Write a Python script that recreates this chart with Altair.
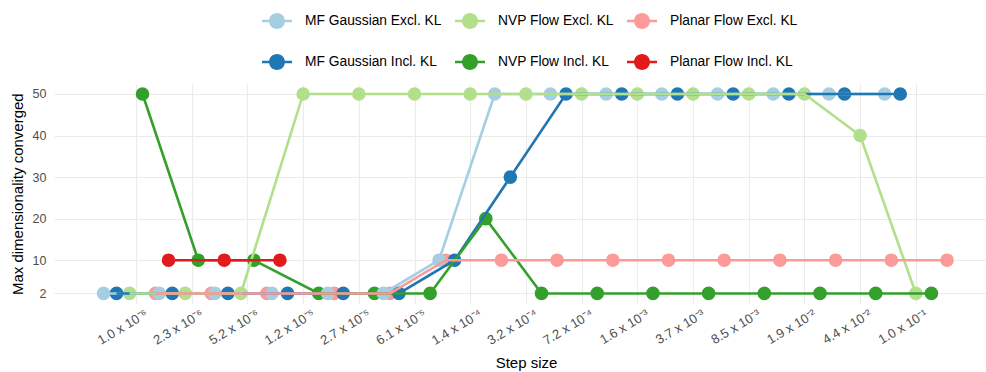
import json
import math

import altair as alt
import pandas as pd

# Step sizes on the log grid and the tick labels printed under them
step_sizes = [1.000e-6, 2.276e-6, 5.179e-6, 1.179e-5, 2.683e-5, 6.105e-5, 1.389e-4,
              3.162e-4, 7.197e-4, 1.638e-3, 3.728e-3, 8.483e-3, 1.931e-2, 4.394e-2, 1.000e-1]
step_labels = ["1.0 x 10⁻⁶", "2.3 x 10⁻⁶", "5.2 x 10⁻⁶", "1.2 x 10⁻⁵", "2.7 x 10⁻⁵",
               "6.1 x 10⁻⁵", "1.4 x 10⁻⁴", "3.2 x 10⁻⁴", "7.2 x 10⁻⁴", "1.6 x 10⁻³",
               "3.7 x 10⁻³", "8.5 x 10⁻³", "1.9 x 10⁻²", "4.4 x 10⁻²", "1.0 x 10⁻¹"]

# Max dimensionality converged per method, one value per step size
mf_excl = [2, 2, 2, 2, 2, 2, 10, 50, 50, 50, 50, 50, 50, 50, 50]
mf_incl = [2, 2, 2, 2, 2, 2, 10, 30, 50, 50, 50, 50, 50, 50, 50]
nvp_excl = [2, 2, 2, 50, 50, 50, 50, 50, 50, 50, 50, 50, 50, 40, 2]
nvp_incl = [50, 10, 10, 2, 2, 2, 20, 2, 2, 2, 2, 2, 2, 2, 2]
planar_excl = [2, 2, 2, 2, 2, 10, 10, 10, 10, 10, 10, 10, 10, 10, 10]
planar_incl = [10, 10, 10]

series_names = ["MF Gaussian Excl. KL", "MF Gaussian Incl. KL", "NVP Flow Excl. KL",
                "NVP Flow Incl. KL", "Planar Flow Excl. KL", "Planar Flow Incl. KL"]
series_values = [mf_excl, mf_incl, nvp_excl, nvp_incl, planar_excl, planar_incl]
series_colors = ["#A6CEE3", "#1F78B4", "#B2DF8A", "#33A02C", "#FB9A99", "#E31A1C"]

y_breaks = [2, 10, 20, 30, 40, 50]

rows = []
for i, step in enumerate(step_sizes):
    for k, (name, vals) in enumerate(zip(series_names, series_values)):
        if i < len(vals):
            rows.append({"series": name, "order": k, "step": step, "value": vals[i]})
df = pd.DataFrame(rows)

# Legend is laid out row-wise: the three "Excl." entries on top, "Incl." below
legend_order = [series_names[j] for j in (0, 2, 4, 1, 3, 5)]
legend_colors = [series_colors[j] for j in (0, 2, 4, 1, 3, 5)]

DODGE = 0.5  # total dodge width, in decades of step size
FONT = "Liberation Sans"

tick_values = [math.log10(s) for s in step_sizes]
label_expr = (f"{json.dumps(step_labels, ensure_ascii=False)}"
              f"[indexof({json.dumps(tick_values)}, datum.value)]")

# line through a filled dot, used as the legend key
KEY_PATH = ("M-1,-0.087H1V0.087H-1Z "
            "M-0.533,0A0.533,0.533 0 1,1 0.533,0A0.533,0.533 0 1,1 -0.533,0Z")

base = alt.Chart(df).transform_joinaggregate(
    n_groups="count()", groupby=["step"]
).transform_window(
    slot="row_number()", groupby=["step"], sort=[alt.SortField("order")]
).transform_calculate(
    xpos=f"log(datum.step) / LN10 + (datum.slot - (datum.n_groups + 1) / 2) * {DODGE} / datum.n_groups"
)

x_enc = alt.X(
    "xpos:Q",
    title="Step size",
    scale=alt.Scale(domain=[-6.526, -0.55], nice=False, zero=False),
    axis=alt.Axis(values=tick_values, labelExpr=label_expr, labelAngle=-31,
                  labelAlign="right", labelBaseline="top", labelPadding=4,
                  labelOffset=7, labelFontSize=13,
                  titleBaseline="alphabetic", titleY=64, titleX=472),
)
y_enc = alt.Y(
    "value:Q",
    title="Max dimensionality converged",
    scale=alt.Scale(domain=[-0.4, 52.4], nice=False, zero=False),
    axis=alt.Axis(values=y_breaks, labelPadding=8, titleX=-37, titleBaseline="middle"),
)
color_scale = alt.Scale(domain=legend_order, range=legend_colors)

points = base.mark_circle(size=185, opacity=1).encode(
    x=x_enc,
    y=y_enc,
    color=alt.Color(
        "series:N", scale=color_scale,
        legend=alt.Legend(
            orient="none", legendX=208, legendY=-78, direction="horizontal",
            columns=3, title=None, symbolType=KEY_PATH, symbolSize=900,
            symbolStrokeWidth=0, symbolOpacity=1, labelFont=FONT, labelFontSize=13.8,
            labelColor="#000000", labelOffset=13, columnPadding=13, rowPadding=18,
            padding=0,
        ),
    ),
)

lines = base.mark_line(strokeWidth=2.6).encode(
    x=x_enc,
    y=y_enc,
    color=alt.Color("series:N", scale=color_scale, legend=None),
    detail="series:N",
)

chart = alt.layer(points, lines).properties(
    width=932,
    height=219.4,
    autosize=alt.AutoSizeParams(type="none"),
    padding={"left": 54, "top": 84, "right": 0, "bottom": 68.6},
    background="#FFFFFF",
).configure_view(
    stroke=None,
).configure_axis(
    grid=True,
    gridColor="#EBEBEB",
    gridWidth=1.1,
    domain=False,
    ticks=False,
    tickSize=0,
    labelFont=FONT,
    labelFontSize=12.5,
    labelColor="#4D4D4D",
    titleFont=FONT,
    titleFontSize=15,
    titleFontWeight="normal",
    titleColor="#000000",
)

chart.save("out.html", embed_options={"renderer": "svg", "actions": False})
